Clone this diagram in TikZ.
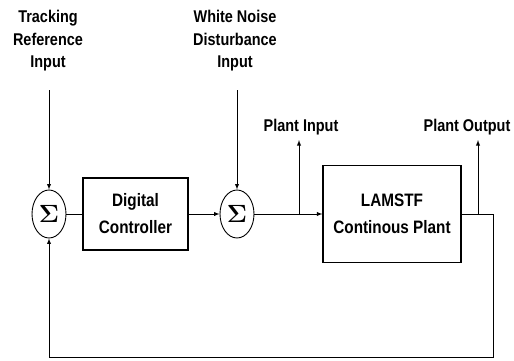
\documentclass[tikz,border=0pt]{standalone}
\usepackage[no-math]{fontspec}
\setmainfont{Liberation Sans}[FakeStretch=0.85]
\usepackage{tikz}
\usetikzlibrary{shapes,arrows,positioning,calc}

\begin{document}
\begin{tikzpicture}[x=1pt,y=-1pt,>=latex,line width=0.9pt,
  sumnode/.style={draw,ellipse,minimum width=34pt,minimum height=48pt,inner sep=0pt,font=\fontsize{23}{23}\selectfont\boldmath},
  block/.style={draw,line width=1.2pt,align=center,font=\fontsize{18}{27}\selectfont\bfseries},
  lbl/.style={align=center,inner sep=0pt,font=\fontsize{17}{22.5}\selectfont\bfseries}]
\useasboundingbox (0,0) rectangle (514,360);

% Summing junctions
\node[sumnode] (s1) at (49,214) {$\Sigma$};
\node[sumnode] (s2) at (237,214) {$\Sigma$};

% Blocks
\node[block,minimum width=105pt,minimum height=72pt] (ctrl) at (135.5,214) {Digital\\Controller};
\node[block,minimum width=138pt,minimum height=97pt] (plant) at (392,214) {LAMSTF\\Continous Plant};

% Inputs
\node[lbl,anchor=north] (ref) at (48,10) {Tracking\\Reference\\Input};
\node[lbl,anchor=north] (noise) at (235,10) {White Noise\\Disturbance\\Input};
\coordinate (refin) at (49,90);
\coordinate (noisein) at (237,90);
\draw[->] (refin) -- (s1);
\draw[->] (noisein) -- (s2);

% Forward path
\draw (s1) -- (ctrl);
\draw[->] (ctrl) -- (s2);
\draw[->] (s2) -- (plant);

% Measured signals
\node[lbl] (pinlbl) at (301,127) {Plant Input};
\node[lbl] (poutlbl) at (467,127) {Plant Output};
\coordinate (pin) at (299,214);
\coordinate (pintip) at (299,140);
\coordinate (pout) at (478,214);
\coordinate (pouttip) at (478,140);
\coordinate (fb) at (493,214);
\draw[->] (pin) -- (pintip);
\draw (plant) -- (fb);
\draw[->] (pout) -- (pouttip);

% Feedback
\coordinate (fbcorner) at (493,357);
\draw[->] (fb) -- (fbcorner) -| (s1);
\end{tikzpicture}
\end{document}
